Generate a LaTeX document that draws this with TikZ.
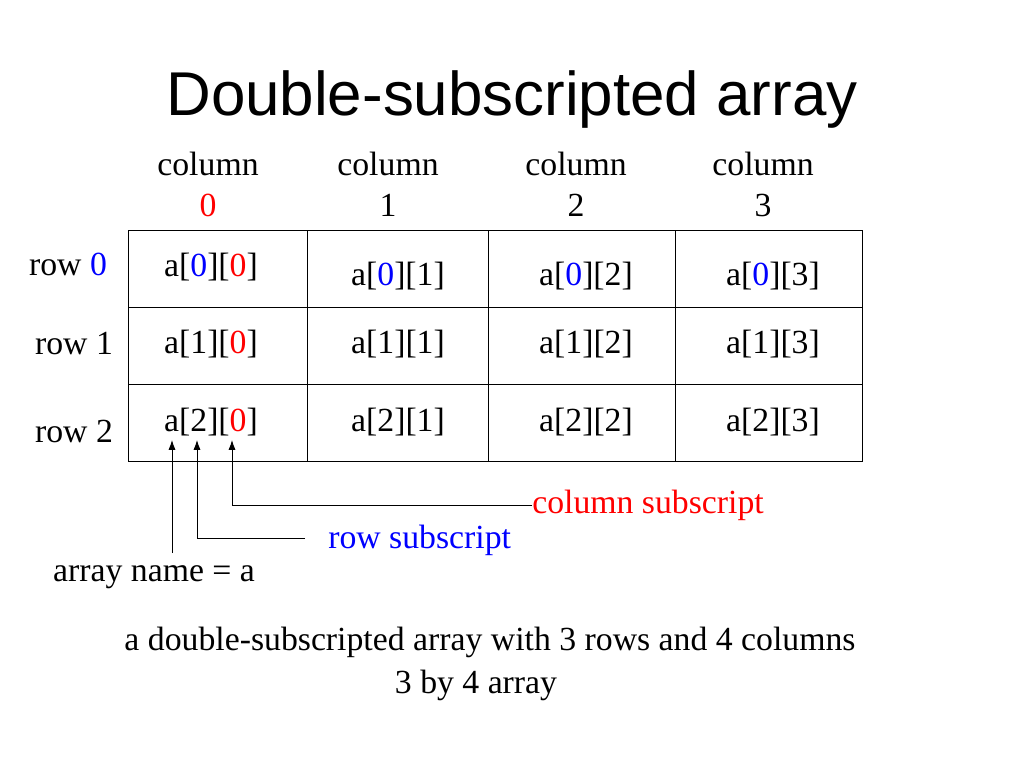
\documentclass[tikz,border=0pt]{standalone}
\usepackage{fontspec}
\usetikzlibrary{arrows.meta}
\setmainfont{Liberation Serif}
\newfontfamily\titlefont{Liberation Sans}
\begin{document}
\begin{tikzpicture}[x=0.025cm,y=-0.025cm,
  txt/.style={font=\fontsize{24}{28}\selectfont,inner sep=0pt},
  cell/.style={draw,line width=0.6pt},
  ptr/.style={-{Latex[length=7pt,width=5pt]},line width=0.6pt}]
\useasboundingbox (0,0) rectangle (1024,768);
\node[font=\titlefont\fontsize{44}{52}\selectfont] (title) at (512,100) {Double-subscripted array};
\foreach \x/\n in {208/0,388/1,576/2,763/3}{
  \node[txt] (ch\n) at (\x,164) {column};
}
\node[txt,text=red] (cn0) at (208,205) {0};
\node[txt] (cn1) at (388,205) {1};
\node[txt] (cn2) at (576,205) {2};
\node[txt] (cn3) at (763,205) {3};
\draw[cell] (128,230) rectangle (862,461);
\foreach \x in {307,488,675} \draw[cell] (\x,230) -- (\x,461);
\foreach \y in {307,384} \draw[cell] (128,\y) -- (862,\y);
\node[txt] (r0) at (68,264) {row \textcolor{blue}{0}};
\node[txt] (r1) at (74,344) {row 1};
\node[txt] (r2) at (74,431) {row 2};
\node[txt] (c00) at (211,267) {a[\textcolor{blue}{0}][\textcolor{red}{0}]};
\node[txt] (c01) at (398,276) {a[\textcolor{blue}{0}][1]};
\node[txt] (c02) at (586,276) {a[\textcolor{blue}{0}][2]};
\node[txt] (c03) at (773,276) {a[\textcolor{blue}{0}][3]};
\node[txt] (c10) at (211,344) {a[1][\textcolor{red}{0}]};
\node[txt] (c11) at (398,344) {a[1][1]};
\node[txt] (c12) at (586,344) {a[1][2]};
\node[txt] (c13) at (773,344) {a[1][3]};
\node[txt] (c20) at (211,422) {a[2][\textcolor{red}{0}]};
\node[txt] (c21) at (398,422) {a[2][1]};
\node[txt] (c22) at (586,422) {a[2][2]};
\node[txt] (c23) at (773,422) {a[2][3]};
\node[txt,text=red,anchor=west] (cs) at (532,505) {column subscript};
\node[txt,text=blue,anchor=west] (rs) at (328,540) {row subscript};
\node[txt] (an) at (154,577) {array name = a};
\coordinate (p1) at (172,440);
\coordinate (p2) at (197,440);
\coordinate (p3) at (232,440);
\draw[ptr] (cs.west) -- (232,505) -- (p3);
\draw[ptr] (305,538) -- (197,538) -- (p2);
\draw[ptr] (172,553) -- (p1);
\node[txt] (b1) at (490,642) {a double-subscripted array with 3 rows and 4 columns};
\node[txt] (b2) at (476,685) {3 by 4 array};
\end{tikzpicture}
\end{document}
